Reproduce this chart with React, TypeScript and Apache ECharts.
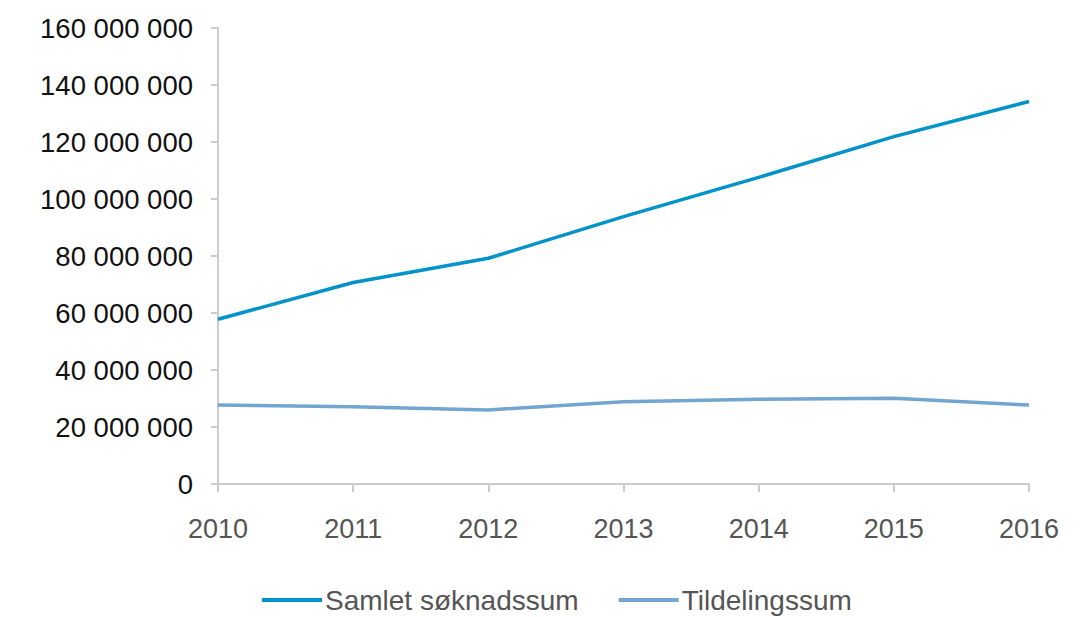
import React, { useEffect, useRef } from "react";
import * as echarts from "echarts";

const years = ["2010", "2011", "2012", "2013", "2014", "2015", "2016"];
const soknadssum = [57800000, 70700000, 79200000, 93800000, 107600000, 121900000, 134200000];
const tildelingssum = [27700000, 27100000, 26000000, 28900000, 29700000, 30100000, 27700000];
const seriesNames = ["Samlet søknadssum", "Tildelingssum"];

const fmt = (v: number) => String(Math.round(v)).replace(/\B(?=(\d{3})+(?!\d))/g, " ");

export default function App() {
  const ref = useRef<HTMLDivElement>(null);
  useEffect(() => {
    if (!ref.current) return;
    const chart = echarts.init(ref.current, undefined, { renderer: "svg" });
    const font = "'Liberation Sans', Arial, Helvetica, sans-serif";
    chart.setOption({
      animation: false,
      textStyle: { fontFamily: font },
      grid: { left: 218, right: 52, top: 28, bottom: 133, containLabel: false },
      legend: {
        bottom: -2,
        left: 257,
        itemWidth: 60,
        itemHeight: 4,
        itemGap: 40,
        icon: "rect",
        textStyle: { fontSize: 28, color: "#555555", fontFamily: font, padding: [0, 0, 0, -2] },
        data: seriesNames,
      },
      xAxis: {
        type: "category",
        data: years,
        boundaryGap: false,
        axisLine: { lineStyle: { color: "#cccccc", width: 2 } },
        axisTick: { show: true, length: 8, lineStyle: { color: "#cccccc", width: 2 } },
        axisLabel: { color: "#555555", fontSize: 27, margin: 31, fontFamily: font },
        splitLine: { show: false },
      },
      yAxis: {
        type: "value",
        min: 0,
        max: 160000000,
        interval: 20000000,
        axisLine: { show: true, lineStyle: { color: "#cccccc", width: 2 } },
        axisTick: { show: true, length: 7, lineStyle: { color: "#cccccc", width: 2 } },
        axisLabel: { color: "#111111", fontSize: 27.5, margin: 25, formatter: fmt, fontFamily: font },
        splitLine: { show: false },
      },
      series: [
        {
          name: seriesNames[0],
          type: "line",
          data: soknadssum,
          showSymbol: false,
          symbol: "none",
          lineStyle: { color: "#0093c9", width: 3.5 },
          itemStyle: { color: "#0093c9" },
        },
        {
          name: seriesNames[1],
          type: "line",
          data: tildelingssum,
          showSymbol: false,
          symbol: "none",
          lineStyle: { color: "#72a5d0", width: 3.5 },
          itemStyle: { color: "#72a5d0" },
        },
      ],
    });
    return () => chart.dispose();
  }, []);
  return <div ref={ref} style={{ width: 1081, height: 617, position: "absolute", left: 0, top: 0 }} />;
}
